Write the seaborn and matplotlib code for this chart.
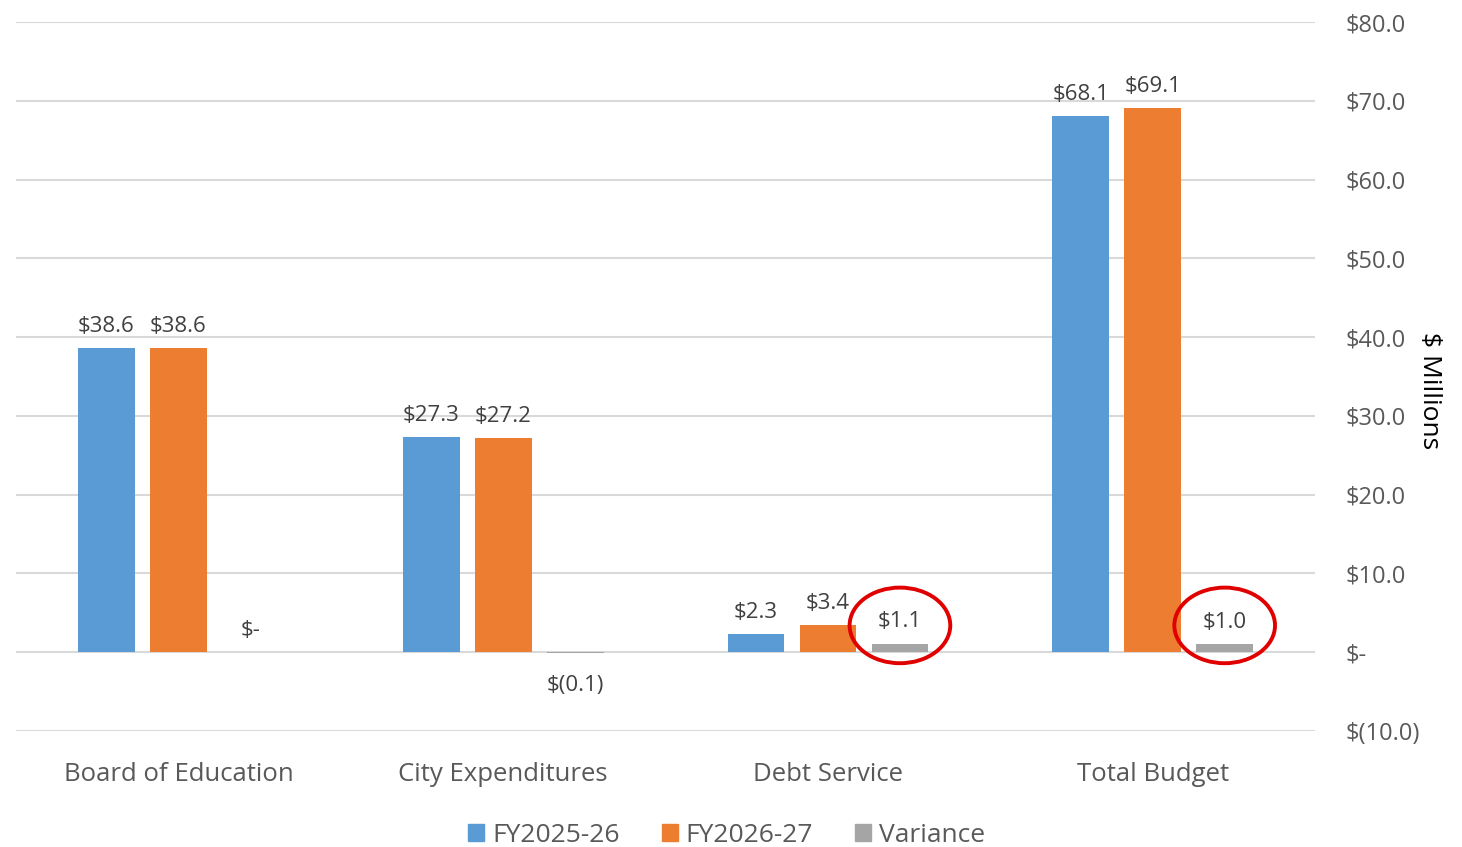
import pandas as pd
import matplotlib.pyplot as plt
import seaborn as sns
from matplotlib.patches import Ellipse

# Budget comparison data ($ millions)
categories = ["Board of Education", "City Expenditures", "Debt Service", "Total Budget"]
fy2025 = [38.6, 27.3, 2.3, 68.1]
fy2026 = [38.6, 27.2, 3.4, 69.1]
variance = [0.0, -0.1, 1.1, 1.0]
series = ["FY2025-26", "FY2026-27", "Variance"]
colors = ["#5B9BD5", "#ED7D31", "#A5A5A5"]
y_ticks = [-10, 0, 10, 20, 30, 40, 50, 60, 70, 80]

df = pd.DataFrame({
    "Category": categories * 3,
    "Series": [s for s in series for _ in categories],
    "Value": fy2025 + fy2026 + variance,
})


def money(v):
    if abs(v) < 0.05:
        return "$-"
    if v < 0:
        return "$({:.1f})".format(-v)
    return "${:.1f}".format(v)


sns.set_style("white")
plt.rcParams["font.family"] = ["Open Sans", "DejaVu Sans"]

fig = plt.figure(figsize=(14.62, 8.47), dpi=100)
ax = fig.add_axes([0.011, 0.137, 0.8885, 0.837])

sns.barplot(data=df, x="Category", y="Value", hue="Series", palette=colors,
            width=0.665, gap=0.21, ax=ax, legend=False, saturation=1,
            linewidth=0, edgecolor="none")

for cont in ax.containers:
    vals = cont.datavalues
    anns = ax.bar_label(cont, labels=[money(v) for v in vals], padding=8,
                        fontsize=16, color="#404040")
    # negative labels sit a bit further below the zero line
    for a, v in zip(anns, vals):
        if v < 0:
            a.xyann = (0, -16)

# red circles around the variance labels of interest
gray_bars = ax.containers[2]
for i in [2, 3]:
    bar = gray_bars[i]
    cx = bar.get_x() + bar.get_width() / 2
    ax.add_patch(Ellipse((cx, 3.4), 0.31, 9.6, fill=False, edgecolor="#E00000",
                         linewidth=2.8, zorder=5))

ax.set_ylim(-10, 80)
ax.set_xlim(-0.5, 3.5)
ax.set_yticks(y_ticks)
ax.set_yticklabels([money(t) for t in y_ticks])
ax.yaxis.tick_right()
ax.yaxis.set_label_position("right")
ax.set_ylabel("$ Millions", rotation=270, fontsize=19, color="black")
ax.yaxis.set_label_coords(1.098, 0.48)
ax.set_xlabel("")
ax.tick_params(axis="y", length=0, pad=22, labelsize=17, labelcolor="#595959")
ax.tick_params(axis="x", length=0, pad=22, labelsize=18.5, labelcolor="#595959")
ax.grid(axis="y", color="#D9D9D9", linewidth=1.5)
ax.set_axisbelow(True)
for sp in ax.spines.values():
    sp.set_visible(False)

handles = [plt.Rectangle((0, 0), 1, 1, color=c) for c in colors]
fig.legend(handles, series, loc="center", bbox_to_anchor=(0.497, 0.014),
           ncol=3, frameon=False, fontsize=19, handlelength=0.6, handleheight=0.6,
           handletextpad=0.3, columnspacing=1.6, labelcolor="#595959")

fig.savefig("out.png", dpi=100)
